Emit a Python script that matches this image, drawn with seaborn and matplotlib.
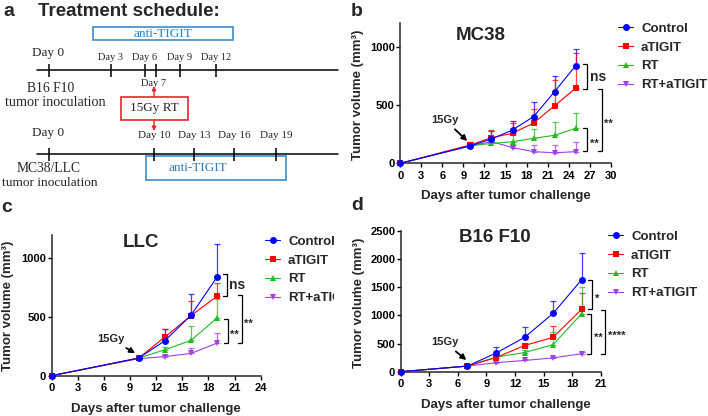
import matplotlib
matplotlib.use("Agg")
import matplotlib.pyplot as plt
from matplotlib.lines import Line2D
from matplotlib.patches import Rectangle
import seaborn as sns
import pandas as pd

# ---- data ----
groups = ['Control', 'aTIGIT', 'RT', 'RT+aTIGIT']

mc38_days = [0, 10, 13, 16, 19, 22, 25]
mc38_control = [0, 150, 208, 286, 400, 614, 837]
mc38_atigit = [0, 158, 220, 257, 345, 494, 643]
mc38_rt = [0, 150, 170, 185, 214, 240, 300]
mc38_combo = [0, 150, 185, 135, 100, 90, 100]
mc38_control_err = [0, 30, 70, 80, 123, 137, 140]
mc38_atigit_err = [0, 25, 63, 86, 123, 220, 300]
mc38_rt_err = [0, 20, 20, 55, 80, 112, 130]
mc38_combo_err = [0, 20, 30, 25, 55, 70, 80]

llc_days = [0, 10, 13, 16, 19]
llc_control = [0, 150, 298, 515, 842]
llc_atigit = [0, 150, 330, 512, 679]
llc_rt = [0, 150, 221, 301, 493]
llc_combo = [0, 145, 163, 190, 278]
llc_control_err = [0, 10, 100, 184, 280]
llc_atigit_err = [0, 10, 65, 126, 109]
llc_rt_err = [0, 10, 25, 120, 157]
llc_combo_err = [0, 10, 15, 49, 86]

b16_days = [0, 7, 10, 13, 16, 19]
b16_control = [0, 100, 330, 610, 1035, 1635]
b16_atigit = [0, 100, 250, 465, 610, 1110]
b16_rt = [0, 100, 260, 340, 480, 1030]
b16_combo = [0, 100, 160, 200, 245, 320]
b16_control_err = [0, 15, 100, 190, 220, 480]
b16_atigit_err = [0, 15, 40, 50, 210, 280]
b16_rt_err = [0, 15, 30, 40, 220, 470]
b16_combo_err = [0, 10, 20, 20, 20, 25]

# significance brackets: (x, y_top, y_bottom, label)
mc38_brackets = [(26.6, 849, 637, 'ns'), (26.6, 300, 105, '**'), (28.7, 637, 105, '**')]
llc_brackets = [(20.1, 865, 679, 'ns'), (20.2, 487, 278, '**'), (21.8, 685, 278, '**')]
b16_brackets = [(20.1, 1631, 1115, '*'), (20.0, 1021, 315, '**'), (21.5, 1097, 309, '****')]

# schedule (panel a)
top_days = ['Day 3', 'Day 6', 'Day 9', 'Day 12']
bottom_days = ['Day 10', 'Day 13', 'Day 16', 'Day 19']

palette = {'Control': '#0000FF', 'aTIGIT': '#FF0000', 'RT': '#22BB22', 'RT+aTIGIT': '#A040E8'}
markers = {'Control': 'o', 'aTIGIT': 's', 'RT': '^', 'RT+aTIGIT': 'v'}

W, H = 708, 416


def fx(x):
    return x / W


def fy(y):
    return 1 - y / H


sns.set_style('ticks')
plt.rcParams['font.family'] = ['Liberation Sans', 'DejaVu Sans']
plt.rcParams['font.weight'] = 'bold'
plt.rcParams['axes.linewidth'] = 1.1

fig = plt.figure(figsize=(W / 100, H / 100), dpi=100)


def growth_panel(rect, days, means, errs, xmax, ymax, ystep, title, title_xy,
                 brackets, tick_len, arrow_text, arrow_tip, legend_xy):
    ax = fig.add_axes(rect)
    rows = []
    for g, vals in zip(groups, means):
        for d, v in zip(days, vals):
            rows.append({'day': d, 'volume': v, 'group': g})
    df = pd.DataFrame(rows)
    draw_order = groups[::-1]

    for g, vals, e in zip(groups, means, errs):
        ax.errorbar(days, vals, yerr=[[0] * len(e), e], fmt='none',
                    ecolor=palette[g], elinewidth=0.9, capsize=2.3,
                    capthick=0.9, alpha=0.75, clip_on=False, zorder=1)

    sns.lineplot(data=df, x='day', y='volume', hue='group', style='group',
                 hue_order=draw_order, style_order=draw_order, palette=palette,
                 markers=markers, dashes=False, markersize=5, markeredgewidth=0,
                 lw=0.8, errorbar=None, ax=ax, legend=False, clip_on=False, zorder=3)

    ax.set_xlim(0, xmax)
    ax.set_ylim(0, ymax)
    ax.set_xticks(range(0, xmax + 1, 3))
    ax.set_yticks(range(0, ymax + 1, ystep))
    ax.set_xlabel('')
    ax.set_ylabel('')
    sns.despine(ax=ax)
    ax.tick_params(direction='out', length=3, width=1, labelsize=8, colors='k')
    ax.tick_params(axis='y', pad=1)
    ax.tick_params(axis='x', pad=2.5)

    ax.text(title_xy[0], title_xy[1], title, transform=ax.transAxes,
            ha='center', va='center', fontsize=13.5, fontweight='bold')

    for x, y1, y2, lab in brackets:
        ax.plot([x - tick_len, x, x, x - tick_len], [y1, y1, y2, y2],
                color='k', lw=0.9, clip_on=False)
        fs = 10 if lab == 'ns' else 8
        dy = 0 if lab == 'ns' else -3
        ax.annotate(lab, xy=(x, (y1 + y2) / 2), xytext=(2, dy),
                    textcoords='offset points', ha='left', va='center',
                    fontsize=fs, fontweight='bold', annotation_clip=False)

    ax.annotate('15Gy', xy=arrow_tip, xytext=arrow_text, ha='center', va='center',
                fontsize=8, fontweight='bold', annotation_clip=False,
                arrowprops=dict(arrowstyle='-|>', color='k', lw=1.3,
                                mutation_scale=8, shrinkA=1, shrinkB=0))

    handles = [Line2D([0], [0], color=palette[g], marker=markers[g], lw=0.8,
                      markersize=5, markeredgewidth=0) for g in groups]
    ax.legend(handles, groups, loc='upper left',
              bbox_to_anchor=(fx(legend_xy[0]), fy(legend_xy[1])),
              bbox_transform=fig.transFigure, frameon=False, fontsize=9.5,
              handlelength=1.15, handletextpad=0.6, labelspacing=0.5,
              borderpad=0, borderaxespad=0)
    return ax


# ---- panel b: MC38 ----
growth_panel([fx(400.3), fy(163.3), 210.4 / W, 140 / H], mc38_days,
             [mc38_control, mc38_atigit, mc38_rt, mc38_combo],
             [mc38_control_err, mc38_atigit_err, mc38_rt_err, mc38_combo_err],
             30, 1200, 500, 'MC38', (0.38, 0.915), mc38_brackets, 0.57,
             (6.4, 371), (9.55, 191), (618, 22.5))

# ---- panel c: LLC ----
growth_panel([fx(51.5), fy(375.7), 209.2 / W, 140.7 / H], llc_days,
             [llc_control, llc_atigit, llc_rt, llc_combo],
             [llc_control_err, llc_atigit_err, llc_rt_err, llc_combo_err],
             24, 1200, 500, 'LLC', (0.43, 0.95), llc_brackets, 0.46,
             (6.8, 313), (9.6, 192), (265, 235.5))

# ---- panel d: B16 F10 ----
growth_panel([fx(400.7), fy(371.7), 200 / W, 140.7 / H], b16_days,
             [b16_control, b16_atigit, b16_rt, b16_combo],
             [b16_control_err, b16_atigit_err, b16_rt_err, b16_combo_err],
             21, 2500, 500, 'B16 F10', (0.47, 0.955), b16_brackets, 0.42,
             (4.6, 523), (6.9, 208), (608, 230.5))

# clip the LLC legend where panel d begins
fig.add_artist(Rectangle((fx(334), fy(306)), fx(352) - fx(334), fy(286) - fy(306),
                         transform=fig.transFigure, facecolor='white',
                         edgecolor='none', zorder=10))

# axis labels
ylab = 'Tumor volume (mm³)'
xlab = 'Days after tumor challenge'
for x, y in [(358, 95), (8, 306), (359, 303)]:
    fig.text(fx(x), fy(y), ylab, rotation=90, ha='center', va='center',
             fontsize=9.5, fontweight='bold', zorder=11)
for x, y in [(505.8, 196), (155.5, 409.3), (505.8, 405)]:
    fig.text(fx(x), fy(y), xlab, ha='center', va='center',
             fontsize=9.5, fontweight='bold')

# panel letters
for lab, x, y in [('a', 9, 11), ('b', 357, 11), ('c', 7, 208), ('d', 357, 206)]:
    fig.text(fx(x), fy(y), lab, ha='center', va='center', fontsize=14,
             fontweight='bold')

# ---- panel a: treatment schedule ----
ax_a = fig.add_axes([0, fy(205), fx(355), 205 / H], zorder=-1)
ax_a.set_xlim(0, 355)
ax_a.set_ylim(205, 0)
ax_a.axis('off')

serif = 'Liberation Serif'
blue_edge = '#3D8BCD'
blue_text = '#2F7FC1'
red = '#E8262A'

ax_a.text(38, 12, 'Treatment schedule:', ha='left', va='center',
          fontsize=13.5, fontweight='bold')

# top timeline (B16 F10)
ax_a.plot([37, 338], [70, 70], color='k', lw=1.1)
top_x = [111, 145, 180, 216]
ax_a.vlines([49.3, 155.7] + top_x, 63.5, 76.5, color='k', lw=1.1)
ax_a.text(48, 53, 'Day 0', family=serif, fontweight='normal', fontsize=9.5,
          ha='center', va='center')
for lab, x in zip(top_days, top_x):
    ax_a.text(x, 57, lab, family=serif, fontweight='normal', fontsize=7.5,
              ha='center', va='center')
ax_a.text(154, 83, 'Day 7', family=serif, fontweight='normal', fontsize=7.5,
          ha='center', va='center')
ax_a.text(51, 88, 'B16 F10', family=serif, fontweight='normal', fontsize=9.8,
          ha='center', va='center')
ax_a.text(55, 103, 'tumor inoculation', family=serif, fontweight='normal',
          fontsize=10.2, ha='center', va='center')
ax_a.add_patch(Rectangle((93, 27), 140, 13, facecolor='none',
                         edgecolor=blue_edge, lw=1.2))
ax_a.text(163, 33.8, 'anti-TIGIT', family=serif, fontweight='normal',
          fontsize=9.5, color=blue_text, ha='center', va='center')

# radiation box
ax_a.add_patch(Rectangle((120.7, 96.7), 67.6, 23.3, facecolor='none',
                         edgecolor=red, lw=1.2))
ax_a.text(154.5, 108.5, '15Gy RT', family=serif, fontweight='normal',
          fontsize=9.5, ha='center', va='center')
ax_a.annotate('', xy=(154, 86), xytext=(154, 96.7),
              arrowprops=dict(arrowstyle='-|>', color=red, lw=1,
                              mutation_scale=6, shrinkA=0, shrinkB=0))
ax_a.annotate('', xy=(154, 131), xytext=(154, 120),
              arrowprops=dict(arrowstyle='-|>', color=red, lw=1,
                              mutation_scale=6, shrinkA=0, shrinkB=0))

# bottom timeline (MC38/LLC)
ax_a.plot([37, 338], [154.3, 154.3], color='k', lw=1.1)
bottom_x = [154, 194.3, 234, 276]
ax_a.vlines([49.3] + bottom_x, 147.5, 161, color='k', lw=1.1)
ax_a.text(48, 133, 'Day 0', family=serif, fontweight='normal', fontsize=9.5,
          ha='center', va='center')
for lab, x in zip(bottom_days, bottom_x):
    ax_a.text(x, 135, lab, family=serif, fontweight='normal', fontsize=8,
              ha='center', va='center')
ax_a.text(49, 168, 'MC38/LLC', family=serif, fontweight='normal', fontsize=9.8,
          ha='center', va='center')
ax_a.text(49.5, 183, 'tumor inoculation', family=serif, fontweight='normal',
          fontsize=9.6, ha='center', va='center')
ax_a.add_patch(Rectangle((145.7, 155.7), 140, 24.3, facecolor='none',
                         edgecolor=blue_edge, lw=1.2))
ax_a.text(198, 168, 'anti-TIGIT', family=serif, fontweight='normal',
          fontsize=9.5, color=blue_text, ha='center', va='center')

fig.savefig('out.png', dpi=100)
